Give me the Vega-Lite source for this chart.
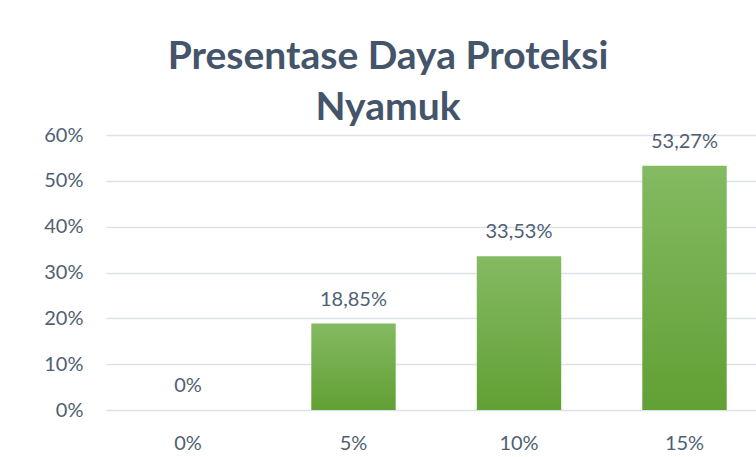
{
  "$schema": "https://vega.github.io/schema/vega-lite/v6.json",
  "autosize": {"type": "none"},
  "width": 650,
  "height": 275,
  "padding": {"left": 106, "top": 135, "right": 0, "bottom": 47},
  "background": "white",
  "title": {
    "text": ["Presentase Daya Proteksi", "Nyamuk"],
    "font": "Lato",
    "fontSize": 39,
    "fontWeight": "bold",
    "color": "#44546A",
    "lineHeight": 51,
    "anchor": "middle",
    "dx": -43,
    "offset": -3
  },
  "data": {
    "values": [
      {"konsentrasi": "0%", "nilai": 0, "label": "0%"},
      {"konsentrasi": "5%", "nilai": 0.1885, "label": "18,85%"},
      {"konsentrasi": "10%", "nilai": 0.3353, "label": "33,53%"},
      {"konsentrasi": "15%", "nilai": 0.5327, "label": "53,27%"}
    ]
  },
  "encoding": {
    "x": {
      "field": "konsentrasi",
      "type": "nominal",
      "sort": ["0%", "5%", "10%", "15%"],
      "scale": {"paddingInner": 0.49, "paddingOuter": 0.2087, "align": 0.576},
      "axis": {
        "title": null,
        "labelAngle": 0,
        "domain": false,
        "ticks": false,
        "labelFont": "Lato",
        "labelFontSize": 20,
        "labelColor": "#505F73",
        "labelPadding": 23
      }
    },
    "y": {
      "field": "nilai",
      "type": "quantitative",
      "scale": {"domain": [0, 0.6], "nice": false},
      "axis": {
        "title": null,
        "format": ".0%",
        "values": [0, 0.1, 0.2, 0.3, 0.4, 0.5, 0.6],
        "domain": false,
        "ticks": false,
        "labelFont": "Lato",
        "labelFontSize": 20,
        "labelColor": "#505F73",
        "labelPadding": 23,
        "gridColor": "#DDE1E6",
        "gridWidth": 1.5
      }
    }
  },
  "layer": [
    {
      "mark": {
        "type": "bar",
        "color": {
          "gradient": "linear",
          "x1": 0, "y1": 0, "x2": 0, "y2": 1,
          "stops": [
            {"offset": 0, "color": "#84BA62"},
            {"offset": 1, "color": "#61A034"}
          ]
        }
      }
    },
    {
      "mark": {
        "type": "text",
        "font": "Lato",
        "fontSize": 20,
        "color": "#505F73",
        "baseline": "alphabetic",
        "align": "center",
        "dy": -18
      },
      "encoding": {"text": {"field": "label"}}
    }
  ],
  "config": {"view": {"stroke": null}}
}
